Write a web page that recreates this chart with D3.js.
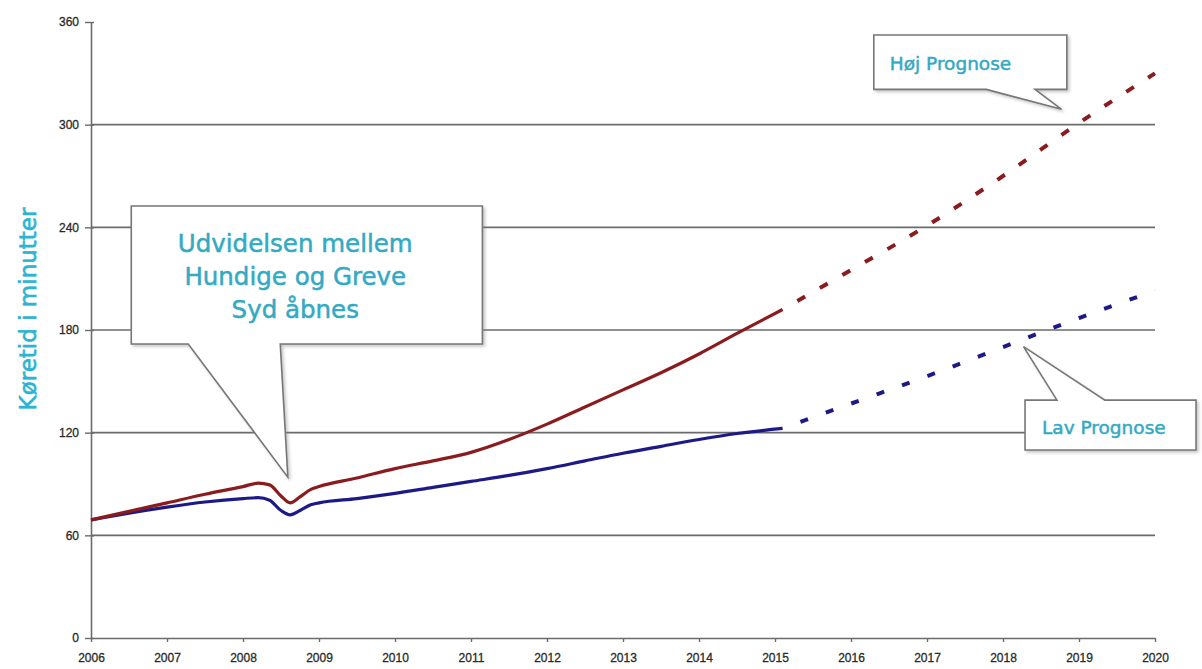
<!DOCTYPE html>
<html>
<head>
<meta charset="utf-8">
<script src="https://cdn.jsdelivr.net/npm/d3@7"></script>
<style>
  body { margin: 0; background: #fff; }
  svg { display: block; }
</style>
</head>
<body>
<svg id="chart" width="1202" height="669"></svg>
<script>
// koretid paa motorvejen: historik + hoj/lav prognose

var histYears = [2006, 2006.5, 2007, 2007.5, 2008, 2008.2, 2008.35, 2008.5, 2008.62, 2008.75, 2008.9, 2009,
                 2009.5, 2010, 2010.5, 2011, 2011.5, 2012, 2012.5, 2013, 2013.5, 2014, 2014.5, 2015.1];
var histHigh  = [69, 74, 79, 84, 88.5, 90.5, 89.5, 83, 79, 82.5, 87, 88.5,
                 93.5, 99, 103.5, 108.5, 116, 125, 135, 145, 155, 166, 178, 192];
var histLow   = [69, 73, 76.5, 79.5, 81.5, 82, 80.5, 74.5, 72, 74.5, 78, 79,
                 81.5, 84.5, 88, 91.5, 95, 99, 103.5, 108, 112, 116, 119.5, 122.5];

var projYears = [2015.1, 2016, 2017, 2018, 2019, 2020];
var projHigh  = [192, 215, 241, 270, 301, 330];
var projLow   = [122.5, 137, 153, 170, 187, 203];

var xTicks = [2006, 2007, 2008, 2009, 2010, 2011, 2012, 2013, 2014, 2015, 2016, 2017, 2018, 2019, 2020];
var yTicks = [0, 60, 120, 180, 240, 300, 360];
var yTitle = "Køretid i minutter";

// callouts, in data units (year, minutter)
var noteBig  = { lines: ["Udvidelsen mellem", "Hundige og Greve", "Syd åbnes"],
                 box: [2006.53, 252.5, 2011.15, 171.8], side: "bottom",
                 base: [2007.28, 2008.49], tip: [2008.59, 94] };
var noteHigh = { lines: ["Høj Prognose"],
                 box: [2016.30, 352.4, 2018.84, 320.6], side: "bottom",
                 base: [2017.78, 2018.42], tip: [2018.77, 309] };
var noteLow  = { lines: ["Lav Prognose"],
                 box: [2018.29, 139, 2020.54, 109.9], side: "top",
                 base: [2018.71, 2019.34], tip: [2018.27, 170.3] };

var redCol = "#8a1c1f", blueCol = "#1d1a86", textCol = "#33a9c3";

var svg = d3.select("#chart");
var x = d3.scaleLinear().domain([2006, 2020]).range([91, 1155]);
var y = d3.scaleLinear().domain([0, 360]).range([638, 22]);

var defs = svg.append("defs");
var f = defs.append("filter").attr("id", "shadow").attr("x", "-10%").attr("y", "-10%").attr("width", "130%").attr("height", "140%");
f.append("feDropShadow").attr("dx", 2).attr("dy", 2).attr("stdDeviation", 1.5)
	.attr("flood-color", "#888").attr("flood-opacity", 0.45);

// grid lines (60..300)
svg.append("g").attr("class", "grid")
	.selectAll("line").data(yTicks.filter(function(d){ return d > 0 && d < 360; }))
	.enter().append("line")
	.attr("x1", x(2006)).attr("x2", x(2020))
	.attr("y1", function(d){ return y(d); }).attr("y2", function(d){ return y(d); })
	.attr("stroke", "#6b6b6b").attr("stroke-width", 1.6);

// axes
var yAxis = svg.append("g").attr("transform", "translate(" + x(2006) + ",0)")
	.call(d3.axisLeft(y).tickValues(yTicks).tickSizeInner(6).tickSizeOuter(0).tickPadding(6));
var xAxis = svg.append("g").attr("transform", "translate(0," + y(0) + ")")
	.call(d3.axisBottom(x).tickValues(xTicks).tickFormat(d3.format("d")).tickSizeInner(4).tickSizeOuter(0).tickPadding(11));
[yAxis, xAxis].forEach(function(a){
	a.select(".domain").attr("stroke", "#6b6b6b").attr("stroke-width", 1.6);
	a.selectAll(".tick line").attr("stroke", "#6b6b6b").attr("stroke-width", 1.4);
	a.selectAll(".tick text").attr("fill", "#2a2a2a")
		.attr("stroke", "#2a2a2a").attr("stroke-width", 0.3)
		.style("font-family", "Liberation Sans, Arial, sans-serif").style("font-size", "12px");
});
yAxis.selectAll(".tick line").attr("x2", 3).attr("x1", -6);

// y title
svg.append("text")
	.attr("transform", "translate(36," + 309 + ")rotate(-90)")
	.attr("text-anchor", "middle")
	.attr("fill", "#2db4d2").attr("stroke", "#2db4d2").attr("stroke-width", 0.6)
	.style("font-family", "DejaVu Sans, Verdana, sans-serif")
	.style("font-size", "23px")
	.text(yTitle);

// lines
var line = d3.line().curve(d3.curveMonotoneX)
	.x(function(d){ return x(d[0]); }).y(function(d){ return y(d[1]); });

function series(years, vals){ return years.map(function(t, i){ return [t, vals[i]]; }); }

svg.append("path").datum(series(projYears, projHigh)).attr("d", line)
	.attr("fill", "none").attr("stroke", redCol).attr("stroke-width", 4)
	.attr("stroke-dasharray", "9,17").attr("stroke-dashoffset", 9);
svg.append("path").datum(series(projYears, projLow)).attr("d", line)
	.attr("fill", "none").attr("stroke", blueCol).attr("stroke-width", 4)
	.attr("stroke-dasharray", "8,19").attr("stroke-dashoffset", 8);
svg.append("path").datum(series(histYears, histLow)).attr("d", line)
	.attr("fill", "none").attr("stroke", blueCol).attr("stroke-width", 3.2);
svg.append("path").datum(series(histYears, histHigh)).attr("d", line)
	.attr("fill", "none").attr("stroke", redCol).attr("stroke-width", 3.2);

// callouts
function calloutPath(n){
	var x0 = x(n.box[0]), y0 = y(n.box[1]), x1 = x(n.box[2]), y1 = y(n.box[3]);
	var b1 = x(n.base[0]), b2 = x(n.base[1]), tx = x(n.tip[0]), ty = y(n.tip[1]);
	if (n.side == "bottom"){
		return "M" + x0 + "," + y0 + "L" + x1 + "," + y0 + "L" + x1 + "," + y1 +
			"L" + b2 + "," + y1 + "L" + tx + "," + ty + "L" + b1 + "," + y1 + "L" + x0 + "," + y1 + "Z";
	}
	return "M" + x0 + "," + y0 + "L" + b1 + "," + y0 + "L" + tx + "," + ty + "L" + b2 + "," + y0 +
		"L" + x1 + "," + y0 + "L" + x1 + "," + y1 + "L" + x0 + "," + y1 + "Z";
}

function drawNote(n, size, anchor, dx, dy, lh){
	var g = svg.append("g");
	g.append("path").attr("d", calloutPath(n))
		.attr("fill", "#fff").attr("stroke", "#777").attr("stroke-width", 1.6)
		.attr("stroke-linejoin", "miter").attr("filter", "url(#shadow)");
	var x0 = x(n.box[0]), y0 = y(n.box[1]);
	g.selectAll("text").data(n.lines).enter().append("text")
		.attr("x", x0 + dx).attr("y", function(d, i){ return y0 + dy + i * lh; })
		.attr("text-anchor", anchor)
		.attr("fill", textCol).attr("stroke", textCol).attr("stroke-width", 0.5)
		.style("font-family", "DejaVu Sans, Verdana, sans-serif")
		.style("font-size", size + "px")
		.text(function(d){ return d; });
}

drawNote(noteBig, 24.5, "middle", 164, 46, 33);
drawNote(noteHigh, 18.5, "start", 16, 35, 0);
drawNote(noteLow, 18.5, "start", 17, 34, 0);
</script>
</body>
</html>
